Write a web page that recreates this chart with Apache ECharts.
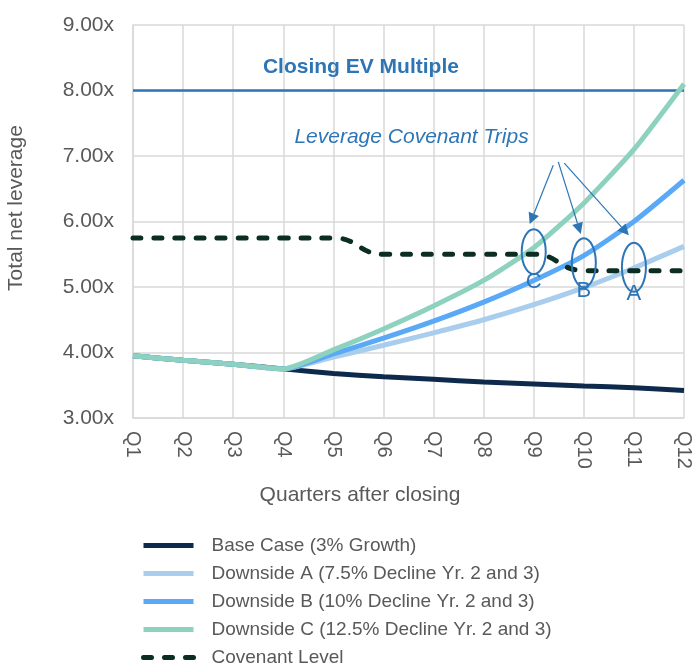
<!DOCTYPE html>
<html>
<head>
<meta charset="utf-8">
<title>Total net leverage by quarter</title>
<script src="https://cdn.jsdelivr.net/npm/echarts@6/dist/echarts.min.js"></script>
<style>
  html, body { margin: 0; padding: 0; background: #ffffff; }
  #chart { width: 694px; height: 666px; }
</style>
</head>
<body>
<div id="chart"></div>
<script>
// ---- Data -------------------------------------------------------------
const quarters = ['Q1', 'Q2', 'Q3', 'Q4', 'Q5', 'Q6', 'Q7', 'Q8', 'Q9', 'Q10', 'Q11', 'Q12'];

const baseCase  = [3.95, 3.88, 3.82, 3.75, 3.68, 3.63, 3.59, 3.55, 3.52, 3.49, 3.46, 3.42];
const downsideA = [3.95, 3.88, 3.82, 3.75, 3.93, 4.11, 4.30, 4.50, 4.73, 4.99, 5.29, 5.62];
const downsideB = [3.95, 3.88, 3.82, 3.75, 3.98, 4.22, 4.48, 4.77, 5.10, 5.48, 6.00, 6.63];
const downsideC = [3.95, 3.88, 3.82, 3.75, 4.04, 4.36, 4.71, 5.10, 5.60, 6.28, 7.10, 8.10];
const covenant  = [5.75, 5.75, 5.75, 5.75, 5.75, 5.50, 5.50, 5.50, 5.50, 5.25, 5.25, 5.25];

const closingEvMultiple = 8.00;

const seriesNames = [
  'Base Case (3% Growth)',
  'Downside A (7.5% Decline Yr. 2 and 3)',
  'Downside B (10% Decline Yr. 2 and 3)',
  'Downside C (12.5% Decline Yr. 2 and 3)',
  'Covenant Level'
];

// y-axis range (multiples)
const yMin = 3, yMax = 9, yStep = 1;

// Callouts: which scenario trips the covenant, and in which quarter
const tripLetters  = ['C', 'B', 'A'];
const tripQuarter  = [8, 9, 10];            // Q9, Q10, Q11 (index)
const tripRingAt   = [5.54, 5.37, 5.30];    // ring centre, in multiples
const tripLetterAt = [5.08, 4.94, 4.90];    // letter centre, in multiples
const arrowFrom    = [[8.39, 6.86], [8.49, 6.91], [8.61, 6.89]];
const arrowTo      = [[7.92, 5.96], [8.94, 5.81], [9.90, 5.79]];

// ---- Style ------------------------------------------------------------
const FONT = '"Liberation Sans", Arial, Helvetica, sans-serif';
const TEXT = '#595959';
const GRID = '#d9d9d9';
const NOTE = '#2e75b6';
const colors = {
  base: '#0d2a4d',
  a: '#a9cdec',
  b: '#59a9f6',
  c: '#8dd2bf',
  cov: '#0b2d22'
};
const covenantDash = [8, 13];

const chart = echarts.init(document.getElementById('chart'), null, { renderer: 'canvas' });

function scenario(name, data, color, z) {
  return {
    name: name,
    type: 'line',
    data: data,
    symbol: 'none',
    smooth: 0.2,
    z: z,
    itemStyle: { color: color },
    lineStyle: { color: color, width: 5 }
  };
}

const baseSeries = scenario(seriesNames[0], baseCase, colors.base, 2);
baseSeries.markLine = {
  silent: true,
  symbol: 'none',
  label: { show: false },
  lineStyle: { color: NOTE, width: 2.5, type: 'solid' },
  data: [{ yAxis: closingEvMultiple }]
};

const legendItems = seriesNames.map(function (name, i) {
  if (i === 4) {
    return { name: name, lineStyle: { width: 5, type: covenantDash, cap: 'round' } };
  }
  return { name: name };
});

chart.setOption({
  animation: false,
  backgroundColor: '#ffffff',
  textStyle: { fontFamily: FONT },
  grid: { left: 133, right: 10, top: 25, bottom: 248, containLabel: false },
  xAxis: {
    type: 'category',
    data: quarters,
    boundaryGap: false,
    axisLine: { show: true, lineStyle: { color: GRID, width: 1.5 } },
    axisTick: { show: false },
    axisLabel: {
      rotate: -90,
      margin: 13,
      color: TEXT,
      fontSize: 20,
      fontFamily: FONT,
      interval: 0
    },
    splitLine: { show: true, lineStyle: { color: GRID, width: 1.5 } }
  },
  yAxis: {
    type: 'value',
    min: yMin,
    max: yMax,
    interval: yStep,
    axisLine: { show: true, lineStyle: { color: GRID, width: 1.5 } },
    axisTick: { show: false },
    axisLabel: {
      margin: 19,
      color: TEXT,
      fontSize: 21,
      fontFamily: FONT,
      formatter: function (v) { return v.toFixed(2) + 'x'; }
    },
    splitLine: { show: true, lineStyle: { color: GRID, width: 1.5 } }
  },
  legend: {
    data: legendItems,
    orient: 'vertical',
    left: 141,
    top: 536,
    width: 520,
    height: 200,
    padding: 0,
    itemWidth: 50,
    itemHeight: 14,
    itemGap: 9,
    selectedMode: false,
    itemStyle: { opacity: 0 },
    lineStyle: { width: 5 },
    textStyle: {
      color: TEXT,
      fontSize: 19,
      lineHeight: 18,
      fontFamily: FONT,
      padding: [0, 0, 0, 13]
    }
  },
  series: [
    baseSeries,
    scenario(seriesNames[1], downsideA, colors.a, 3),
    scenario(seriesNames[2], downsideB, colors.b, 4),
    scenario(seriesNames[3], downsideC, colors.c, 5),
    {
      name: seriesNames[4],
      type: 'line',
      data: covenant,
      symbol: 'none',
      smooth: 0.5,
      smoothMonotone: 'x',
      z: 6,
      itemStyle: { color: colors.cov },
      lineStyle: { color: colors.cov, width: 5, type: covenantDash, cap: 'round' }
    }
  ]
});

// ---- Callouts and axis titles, placed through the axes ------------------
function toPx(idx, val) {
  const i0 = Math.max(0, Math.min(quarters.length - 2, Math.floor(idx)));
  const f = idx - i0;
  const p0 = chart.convertToPixel({ xAxisIndex: 0, yAxisIndex: 0 }, [i0, val]);
  const p1 = chart.convertToPixel({ xAxisIndex: 0, yAxisIndex: 0 }, [i0 + 1, val]);
  return [p0[0] + (p1[0] - p0[0]) * f, p0[1]];
}

function arrow(from, to) {
  const a = toPx(from[0], from[1]);
  const b = toPx(to[0], to[1]);
  const dx = b[0] - a[0], dy = b[1] - a[1];
  const len = Math.sqrt(dx * dx + dy * dy);
  const ux = dx / len, uy = dy / len;
  const headLen = 11, headHalf = 5.5;
  const bx = b[0] - ux * headLen, by = b[1] - uy * headLen;
  return [
    {
      type: 'line',
      silent: true,
      z: 100,
      shape: { x1: a[0], y1: a[1], x2: bx, y2: by },
      style: { stroke: NOTE, lineWidth: 1.2 }
    },
    {
      type: 'polygon',
      silent: true,
      z: 100,
      shape: {
        points: [
          [b[0], b[1]],
          [bx - uy * headHalf, by + ux * headHalf],
          [bx + uy * headHalf, by - ux * headHalf]
        ]
      },
      style: { fill: NOTE }
    }
  ];
}

const evLabel = toPx(4.55, 8.35);
const tripsLabel = toPx(5.56, 7.29);

const elements = [
  {
    type: 'text',
    silent: true,
    z: 100,
    x: evLabel[0],
    y: evLabel[1],
    style: {
      text: 'Closing EV Multiple',
      fill: NOTE,
      font: 'bold 21px ' + FONT,
      align: 'center',
      verticalAlign: 'middle'
    }
  },
  {
    type: 'text',
    silent: true,
    z: 100,
    x: tripsLabel[0],
    y: tripsLabel[1],
    style: {
      text: 'Leverage Covenant Trips',
      fill: NOTE,
      font: 'italic 21px ' + FONT,
      align: 'center',
      verticalAlign: 'middle'
    }
  },
  {
    type: 'text',
    silent: true,
    x: 16,
    y: 208,
    rotation: Math.PI / 2,
    style: {
      text: 'Total net leverage',
      fill: TEXT,
      font: '21px ' + FONT,
      align: 'center',
      verticalAlign: 'middle'
    }
  },
  {
    type: 'text',
    silent: true,
    x: 360,
    y: 495,
    style: {
      text: 'Quarters after closing',
      fill: TEXT,
      font: '21px ' + FONT,
      align: 'center',
      verticalAlign: 'middle'
    }
  }
];

for (let i = 0; i < tripLetters.length; i++) {
  const ring = toPx(tripQuarter[i], tripRingAt[i]);
  const letter = toPx(tripQuarter[i], tripLetterAt[i]);
  const ry = i === 0 ? 22.5 : 24.5;
  elements.push({
    type: 'ellipse',
    silent: true,
    z: 100,
    shape: { cx: ring[0], cy: ring[1], rx: 12, ry: ry },
    style: { fill: 'none', stroke: NOTE, lineWidth: 2 }
  });
  elements.push({
    type: 'text',
    silent: true,
    z: 100,
    x: letter[0],
    y: letter[1],
    style: {
      text: tripLetters[i],
      fill: NOTE,
      font: '22px ' + FONT,
      align: 'center',
      verticalAlign: 'middle'
    }
  });
  elements.push.apply(elements, arrow(arrowFrom[i], arrowTo[i]));
}

chart.setOption({ graphic: { elements: elements } });
</script>
</body>
</html>
